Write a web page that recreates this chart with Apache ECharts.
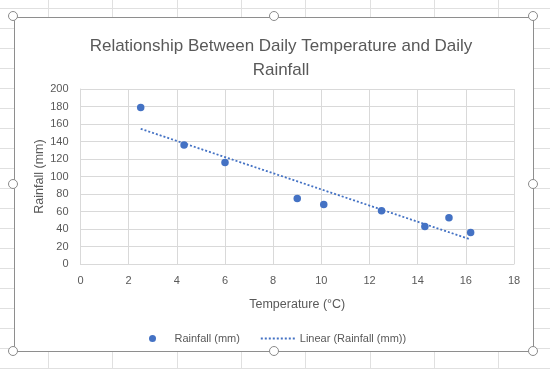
<!DOCTYPE html>
<html>
<head>
<meta charset="utf-8">
<script src="https://cdn.jsdelivr.net/npm/echarts@6/dist/echarts.min.js"></script>
<style>
  html, body { margin: 0; padding: 0; width: 550px; height: 369px; overflow: hidden; background: #fff; }
  #sheet {
    position: absolute; left: 0; top: 0; width: 550px; height: 369px;
    background-image:
      repeating-linear-gradient(to bottom, transparent 0px, transparent 8px, #e0e0e0 8px, #e0e0e0 9px, transparent 9px, transparent 20px),
      repeating-linear-gradient(to right, transparent 0px, transparent 48px, #e0e0e0 48px, #e0e0e0 49px, transparent 49px, transparent 64.3px);
  }
  #frame {
    position: absolute; left: 14px; top: 17px; width: 520px; height: 335px;
    background: #fff; border: 1px solid #8e8e8e; box-sizing: border-box;
  }
  #chart { position: absolute; left: 0; top: 0; width: 550px; height: 369px; }
  .h { position: absolute; width: 8px; height: 8px; border-radius: 50%; border: 1.6px solid #8a8a8a; background: #fff; margin-left: -5.6px; margin-top: -5.6px; z-index: 5; }
</style>
</head>
<body>
<div id="sheet"></div>
<div id="frame"></div>
<div id="chart"></div>
<div class="h" style="left:14px;top:17px"></div>
<div class="h" style="left:275px;top:17px"></div>
<div class="h" style="left:534px;top:17px"></div>
<div class="h" style="left:14px;top:185px"></div>
<div class="h" style="left:534px;top:185px"></div>
<div class="h" style="left:14px;top:352px"></div>
<div class="h" style="left:275px;top:352px"></div>
<div class="h" style="left:534px;top:352px"></div>
<script>
// Data
const temperature = [2.5, 4.3, 6.0, 9.0, 10.1, 12.5, 14.3, 15.3, 16.2];
const rainfall = [179, 136, 116, 75, 68, 61, 43, 53, 36];
// Linear trendline endpoints as drawn in the reference
const trendX = [2.5, 16.2];
const trendY = [154.5, 28];
const xTicks = [0, 2, 4, 6, 8, 10, 12, 14, 16, 18];
const yTicks = [0, 20, 40, 60, 80, 100, 120, 140, 160, 180, 200];

const scatterData = temperature.map((t, i) => [t, rainfall[i]]);
const trendData = trendX.map((t, i) => [t, trendY[i]]);

const FONT = 'Liberation Sans';
const GRAY = '#595959';
const BLUE = '#4472C4';

const chart = echarts.init(document.getElementById('chart'), null, { renderer: 'canvas' });
chart.setOption({
  backgroundColor: 'transparent',
  animation: false,
  textStyle: { fontFamily: FONT },
  title: {
    text: 'Relationship Between Daily Temperature and Daily\nRainfall',
    left: 276, textAlign: 'center', top: 29,
    textStyle: { fontFamily: FONT, fontSize: 17, fontWeight: 'normal', color: GRAY, lineHeight: 24 }
  },
  grid: { left: 80.5, right: 36, top: 89, bottom: 105, containLabel: false },
  xAxis: {
    type: 'value', min: xTicks[0], max: xTicks[xTicks.length - 1], interval: 2,
    name: 'Temperature (°C)', nameLocation: 'middle', nameGap: 34,
    nameTextStyle: { fontFamily: FONT, fontSize: 12.5, color: GRAY },
    axisLine: { show: true, lineStyle: { color: '#d9d9d9' } },
    axisTick: { show: false },
    axisLabel: { fontFamily: FONT, fontSize: 11, color: GRAY, margin: 11 },
    splitLine: { show: true, lineStyle: { color: '#d9d9d9' } }
  },
  yAxis: {
    type: 'value', min: yTicks[0], max: yTicks[yTicks.length - 1], interval: 20,
    name: 'Rainfall (mm)', nameLocation: 'middle', nameRotate: 90, nameGap: 34,
    nameMoveOverlap: false,
    nameTextStyle: { fontFamily: FONT, fontSize: 12.5, color: GRAY },
    axisLine: { show: true, lineStyle: { color: '#d9d9d9' } },
    axisTick: { show: false },
    axisLabel: { fontFamily: FONT, fontSize: 11, color: GRAY, margin: 12 },
    splitLine: { show: true, lineStyle: { color: '#d9d9d9' } }
  },
  legend: {
    top: 328, left: 144,
    itemGap: 20, itemWidth: 34, itemHeight: 7,
    textStyle: { fontFamily: FONT, fontSize: 11, color: GRAY },
    data: [
      { name: 'Rainfall (mm)', icon: 'circle', itemStyle: { color: BLUE, opacity: 1 } },
      { name: 'Linear (Rainfall (mm))', itemStyle: { opacity: 0 },
        lineStyle: { color: BLUE, width: 1.8, type: [2, 2], opacity: 1 } }
    ]
  },
  series: [
    {
      name: 'Rainfall (mm)', type: 'scatter', data: scatterData,
      symbol: 'circle', symbolSize: 7.5,
      itemStyle: { color: BLUE, opacity: 1 }
    },
    {
      name: 'Linear (Rainfall (mm))', type: 'line', data: trendData,
      symbol: 'none', showSymbol: false,
      lineStyle: { color: BLUE, width: 1.8, type: [2, 2] },
      itemStyle: { color: BLUE }
    }
  ]
});
</script>
</body>
</html>
